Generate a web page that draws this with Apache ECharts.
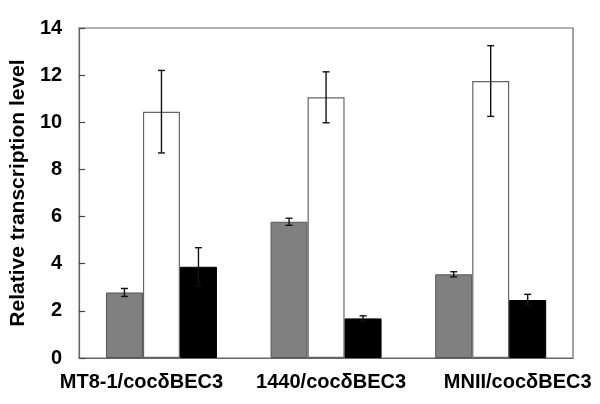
<!DOCTYPE html>
<html><head><meta charset="utf-8">
<script src="https://cdn.jsdelivr.net/npm/echarts@6/dist/echarts.min.js"></script>
<style>html,body{margin:0;padding:0;background:#fff}#c{width:600px;height:404px}</style>
</head><body><div id="c"></div>
<script>
const categories = ['MT8-1/coc\u03B4BEC3', '1440/coc\u03B4BEC3', 'MNII/coc\u03B4BEC3'];
const grayValues = [2.78, 5.78, 3.55];
const grayErrors = [0.17, 0.15, 0.11];
const whiteValues = [10.45, 11.06, 11.75];
const whiteErrors = [1.75, 1.08, 1.5];
const blackValues = [3.87, 1.68, 2.46];
const blackErrors = [0.81, 0.11, 0.24];
const yTicks = [0, 2, 4, 6, 8, 10, 12, 14];

const labelPads = [[0, 40, 0, 0], [0, 0, 0, 10], [0, 0, 0, 54]];
const FONT = 'Liberation Sans, Arial, sans-serif';
const BW = 37;
const chart = echarts.init(document.getElementById('c'));
function errSeries(vals, errs, offset) {
  return {
    type: 'custom', z: 10,
    data: vals.map((v, i) => [i, v, errs[i]]),
    encode: { x: 0, y: 1 },
    renderItem: function (params, api) {
      const i = api.value(0), v = api.value(1), e = api.value(2);
      const hi = api.coord([i, v + e]);
      const lo = api.coord([i, v - e]);
      const x = hi[0] + offset;
      const cw = 3.5;
      const st = { stroke: '#111', lineWidth: 1.4 };
      return { type: 'group', children: [
        { type: 'line', shape: { x1: x, y1: hi[1], x2: x, y2: lo[1] }, style: st },
        { type: 'line', shape: { x1: x - cw, y1: hi[1], x2: x + cw, y2: hi[1] }, style: st },
        { type: 'line', shape: { x1: x - cw, y1: lo[1], x2: x + cw, y2: lo[1] }, style: st }
      ]};
    }
  };
}
chart.setOption({
  animation: false,
  grid: { left: 77.5, right: 27, top: 28, bottom: 46, show: true, borderColor: '#666', borderWidth: 1.2, backgroundColor: 'transparent' },
  xAxis: {
    type: 'category',
    data: categories.map((c, i) => ({ value: c, textStyle: { padding: labelPads[i] } })),
    axisLine: { lineStyle: { color: '#666', width: 1.2 } },
    axisTick: { show: false },
    axisLabel: { interval: 0, color: '#000', fontFamily: FONT, fontWeight: 'bold', fontSize: 20, margin: 14 }
  },
  yAxis: {
    type: 'value', min: 0, max: 14, interval: 2,
    name: 'Relative transcription level', nameLocation: 'middle', nameGap: 47,
    nameTextStyle: { color: '#000', fontFamily: FONT, fontWeight: 'bold', fontSize: 21 },
    axisLine: { show: true, lineStyle: { color: '#666', width: 1.2 } },
    axisTick: { show: true, inside: true, length: 6, lineStyle: { color: '#444', width: 1.2 } },
    splitLine: { show: false },
    axisLabel: { color: '#000', fontFamily: FONT, fontWeight: 'bold', fontSize: 20, margin: 17,
      formatter: v => yTicks.includes(v) ? String(v) : '' }
  },
  series: [
    { type: 'bar', data: grayValues, barWidth: BW, barGap: '0%', itemStyle: { color: '#808080', borderColor: '#555', borderWidth: 1 } },
    { type: 'bar', data: whiteValues, barWidth: BW, barGap: '0%', itemStyle: { color: '#fff', borderColor: '#666', borderWidth: 1.2 } },
    { type: 'bar', data: blackValues, barWidth: BW, barGap: '0%', itemStyle: { color: '#000', borderColor: '#000', borderWidth: 1 } },
    errSeries(grayValues, grayErrors, -BW),
    errSeries(whiteValues, whiteErrors, 0),
    errSeries(blackValues, blackErrors, BW)
  ]
});
</script></body></html>
